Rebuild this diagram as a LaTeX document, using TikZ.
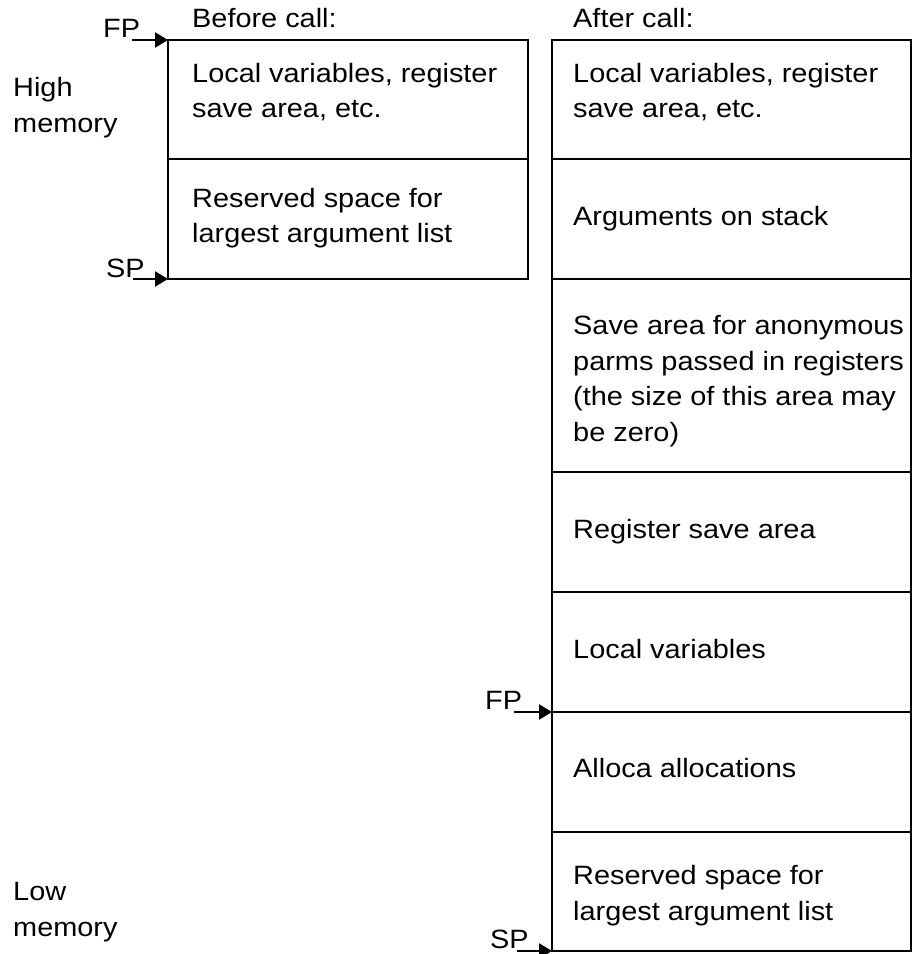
\documentclass[tikz,border=0pt]{standalone}
\usepackage{fontspec}
\setmainfont{Liberation Sans}[FakeStretch=1.09]
\usetikzlibrary{arrows.meta,positioning}

\begin{document}
\begin{tikzpicture}[x=1pt, y=-1pt, every node/.style={font=\fontsize{26.5}{35.5}\selectfont, inner sep=0pt, anchor=base west, align=left}, cell/.style={draw, line width=2.4pt, minimum width=360pt, inner sep=0pt, outer sep=0pt, anchor=north}, ptr/.style={line width=2.4pt, -{Triangle[length=13pt, width=15pt]}}]
\useasboundingbox (0,0) rectangle (913,954);
% before call
\node[cell, minimum height=119pt] (L1) at (348,40) {};
\node[cell, minimum height=120pt, below=0pt of L1] (L2) {};
% after call
\node[cell, minimum width=359pt, minimum height=119pt] (R1) at (731.5,40) {};
\node[cell, minimum width=359pt, minimum height=120pt, below=0pt of R1] (R2) {};
\node[cell, minimum width=359pt, minimum height=193pt, below=0pt of R2] (R3) {};
\node[cell, minimum width=359pt, minimum height=120pt, below=0pt of R3] (R4) {};
\node[cell, minimum width=359pt, minimum height=120pt, below=0pt of R4] (R5) {};
\node[cell, minimum width=359pt, minimum height=120pt, below=0pt of R5] (R6) {};
\node[cell, minimum width=359pt, minimum height=119pt, below=0pt of R6] (R7) {};
% texts (base = last line)
\node (before) at (192,27) {Before call:};
\node (after) at (573,27) {After call:};
\node (high) at (13,132) {High\\memory};
\node (low) at (13,936) {Low\\memory};
\node (tL1) at (192,117.5) {Local variables, register\\save area, etc.};
\node (tL2) at (192,242.5) {Reserved space for\\largest argument list};
\node (tR1) at (573,117.5) {Local variables, register\\save area, etc.};
\node (tR2) at (573,225) {Arguments on stack};
\node (tR3) at (573,441) {Save area for anonymous\\parms passed in registers\\(the size of this area may\\be zero)};
\node (tR4) at (573,538) {Register save area};
\node (tR5) at (573,658) {Local variables};
\node (tR6) at (573,777) {Alloca allocations};
\node (tR7) at (573,920) {Reserved space for\\largest argument list};
% pointers
\node (fpB) at (103,37) {FP};
\node (spB) at (106,277) {SP};
\node (fpA) at (485,709) {FP};
\node (spA) at (490,948) {SP};
\draw[ptr] ([xshift=-8pt]fpB.south east |- L1.north west) -- (L1.north west);
\draw[ptr] ([xshift=-12pt]spB.south east |- L2.south west) -- (L2.south west);
\draw[ptr] ([xshift=-8pt]fpA.south east |- R6.north west) -- (R6.north west);
\draw[ptr] ([xshift=-12pt]spA.south east |- R7.south west) -- (R7.south west);
\end{tikzpicture}
\end{document}
